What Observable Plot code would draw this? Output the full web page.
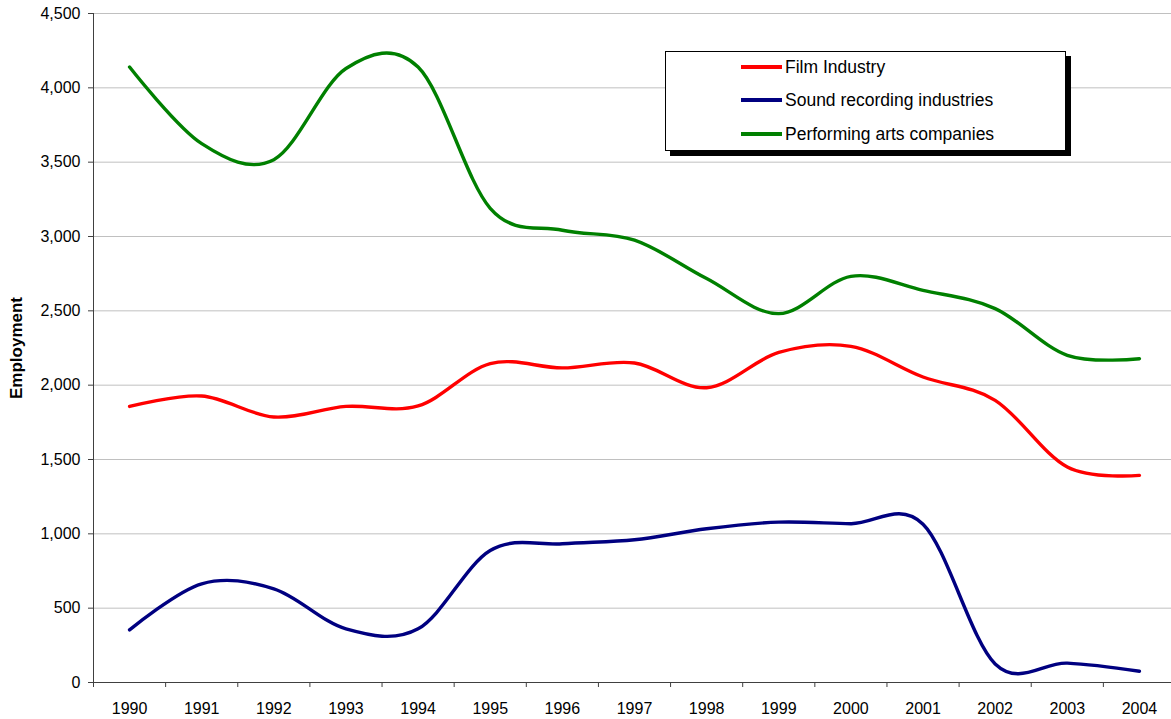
<!DOCTYPE html>
<html>
<head>
<meta charset="utf-8">
<script src="https://cdn.jsdelivr.net/npm/d3@7"></script>
<script src="https://cdn.jsdelivr.net/npm/@observablehq/plot@0.6"></script>
<style>
  body { margin: 0; background: #fff; font-family: "Liberation Sans", Arial, sans-serif; }
  #wrap { position: relative; width: 1171px; height: 719px; overflow: hidden; }
  #chart svg { display: block; }
  g[aria-label="y-axis label"] text { font-weight: bold; font-size: 17px; }
  .legend { position: absolute; left: 665px; top: 51px; width: 401px; height: 100px;
    border: 1px solid #000; background: #fff; box-shadow: 5px 5px 0 #000; box-sizing: border-box; }
  .legend .row { position: absolute; left: 75px; height: 20px; display: flex; align-items: center; }
  .legend .sw { width: 41px; height: 3.5px; margin-right: 3px; }
  .legend .lab { font-size: 17.5px; color: #000; white-space: nowrap; }
</style>
</head>
<body>
<div id="wrap">
  <div id="chart"></div>
  <div class="legend" id="legend"></div>
</div>
<script>
const years = [1990, 1991, 1992, 1993, 1994, 1995, 1996, 1997, 1998, 1999, 2000, 2001, 2002, 2003, 2004];
const yTicks = [0, 500, 1000, 1500, 2000, 2500, 3000, 3500, 4000, 4500];
const seriesNames = ["Film Industry", "Sound recording industries", "Performing arts companies"];
const seriesColors = ["#ff0000", "#000080", "#008000"];

const film = [1857, 1927, 1786, 1857, 1860, 2145, 2116, 2149, 1983, 2220, 2261, 2055, 1898, 1450, 1393];
const sound = [354, 664, 630, 361, 361, 888, 933, 960, 1034, 1079, 1068, 1065, 125, 130, 76];
const performing = [4140, 3625, 3517, 4130, 4140, 3190, 3042, 2975, 2717, 2481, 2732, 2638, 2515, 2201, 2178];

const seriesValues = [film, sound, performing];
const rows = [];
seriesNames.forEach((name, s) => {
  years.forEach((yr, i) => rows.push({series: name, year: yr, value: seriesValues[s][i]}));
});

const bounds = years.map(y => y - 0.5).concat([years[years.length - 1] + 0.5]);

const chart = Plot.plot({
  width: 1171,
  height: 719,
  marginLeft: 93,
  marginRight: 0,
  marginTop: 13,
  marginBottom: 37,
  style: {fontFamily: "'Liberation Sans', Arial, sans-serif", fontSize: "16px", color: "#000", background: "#fff"},
  x: {type: "linear", domain: [bounds[0], bounds[bounds.length - 1]], range: [93, 1175]},
  y: {domain: [0, 4500], range: [682, 13]},
  color: {domain: seriesNames, range: seriesColors},
  marks: [
    Plot.ruleY(yTicks.slice(1), {stroke: "#c0c0c0", strokeWidth: 1}),
    Plot.axisY({ticks: yTicks, tickFormat: d3.format(","), tickSize: 5, tickPadding: 8,
      label: "Employment", labelAnchor: "center", labelArrow: "none", labelOffset: 84, stroke: "#404040", fill: "#000"}),
    Plot.axisX({ticks: years, tickFormat: d => String(d), tickSize: 0, tickPadding: 20, label: null, fill: "#000"}),
    Plot.axisX({ticks: bounds, tickFormat: () => "", tickSize: 5, label: null, stroke: "#404040"}),
    Plot.ruleY([0], {stroke: "#404040", strokeWidth: 1}),
    Plot.ruleX([bounds[0]], {stroke: "#404040", strokeWidth: 1}),
    Plot.line(rows, {x: "year", y: "value", z: "series", stroke: "series", curve: "cardinal", strokeWidth: 3.4, strokeLinejoin: "round", strokeLinecap: "round"})
  ]
});
document.getElementById("chart").appendChild(chart);

const legend = document.getElementById("legend");
const rowTops = [5, 38, 72];
seriesNames.forEach((name, i) => {
  const r = document.createElement("div");
  r.className = "row";
  r.style.top = rowTops[i] + "px";
  const sw = document.createElement("div");
  sw.className = "sw";
  sw.style.background = seriesColors[i];
  const lab = document.createElement("span");
  lab.className = "lab";
  lab.textContent = name;
  r.appendChild(sw);
  r.appendChild(lab);
  legend.appendChild(r);
});
</script>
</body>
</html>
